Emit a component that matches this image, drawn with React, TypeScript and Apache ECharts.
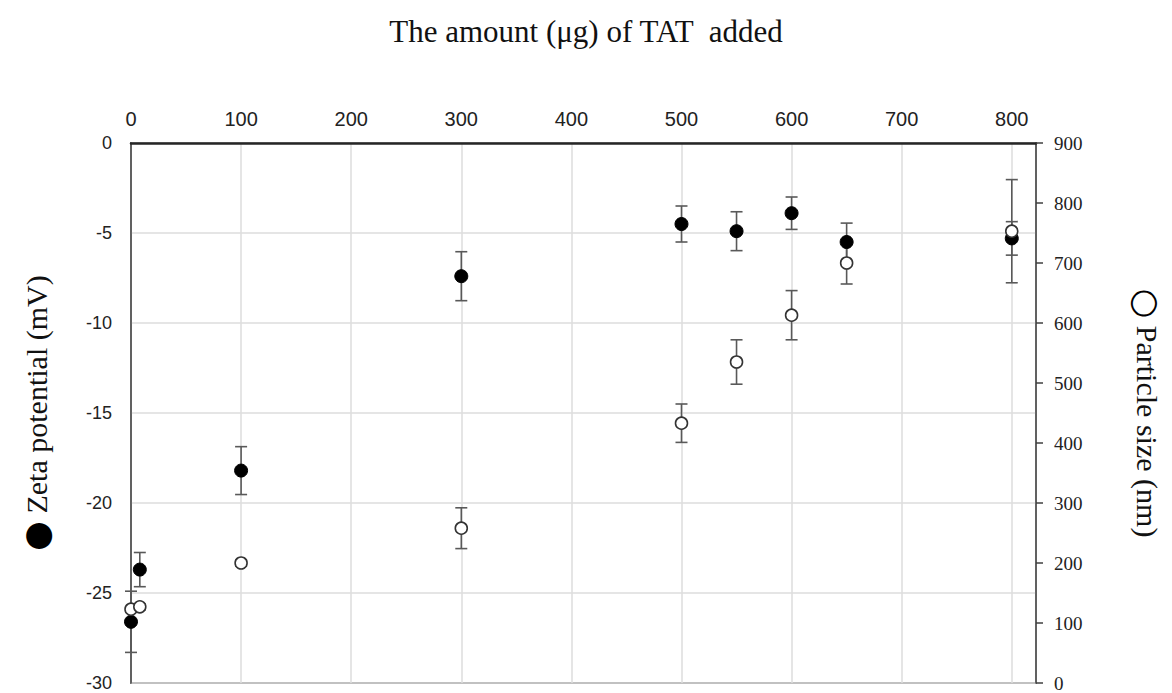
import React, { useEffect, useRef } from "react";
import * as echarts from "echarts";

const amountTAT = [0, 8, 100, 300, 500, 550, 600, 650, 800];
const zetaMean = [-26.6, -23.7, -18.2, -7.4, -4.5, -4.9, -3.9, -5.5, -5.3];
const zetaSD = [1.7, 0.95, 1.33, 1.36, 1.0, 1.08, 0.9, 1.05, 0.93];
const sizeMean = [123, 127, 200, 258, 433, 535, 613, 700, 753];
const sizeSD = [4, 5, 5, 34, 32, 37, 41, 35, 86];
const xTicks = [0, 100, 200, 300, 400, 500, 600, 700, 800];

const errColor = "#595959";

function errorRender(params: any, api: any) {
  const x = api.value(0);
  const lo = api.value(1);
  const hi = api.value(2);
  const p1 = api.coord([x, hi]);
  const p2 = api.coord([x, lo]);
  const w = 6;
  const style = { stroke: errColor, lineWidth: 1.6, fill: null };
  return {
    type: "group",
    children: [
      { type: "line", shape: { x1: p1[0], y1: p1[1], x2: p2[0], y2: p2[1] }, style },
      { type: "line", shape: { x1: p1[0] - w, y1: p1[1], x2: p1[0] + w, y2: p1[1] }, style },
      { type: "line", shape: { x1: p2[0] - w, y1: p2[1], x2: p2[0] + w, y2: p2[1] }, style },
    ],
  };
}

export default function App() {
  const ref = useRef<HTMLDivElement>(null);
  useEffect(() => {
    if (!ref.current) return;
    const chart = echarts.init(ref.current, null, { renderer: "svg" });
    const zetaErr = amountTAT.map((x, i) => [x, zetaMean[i] - zetaSD[i], zetaMean[i] + zetaSD[i]]);
    const sizeErr = amountTAT.map((x, i) => [x, sizeMean[i] - sizeSD[i], sizeMean[i] + sizeSD[i]]);
    const zetaPts = amountTAT.map((x, i) => [x, zetaMean[i]]);
    const sizePts = amountTAT.map((x, i) => [x, sizeMean[i]]);
    const nameFont = "'Liberation Serif', serif";
    chart.setOption({
      animation: false,
      backgroundColor: "#ffffff",
      title: {
        text: "The amount (μg) of TAT  added",
        left: "center",
        top: 11,
        textStyle: {
          fontFamily: nameFont,
          fontWeight: "normal",
          fontSize: 31,
          color: "#111",
        },
      },
      grid: {
        left: 131,
        top: 143,
        right: 136,
        bottom: 10,
        show: true,
        borderColor: "#404040",
        borderWidth: 1.5,
        containLabel: false,
      },
      xAxis: {
        type: "value",
        position: "top",
        min: 0,
        max: 822,
        interval: 100,
        axisLine: { show: true, lineStyle: { color: "#262626", width: 2.5 } },
        axisTick: { show: false },
        axisLabel: {
          margin: 14,
          fontFamily: "'Liberation Sans Narrow', 'Liberation Sans', sans-serif",
          fontSize: 20,
          color: "#222",
          formatter: (v: number) => (xTicks.indexOf(v) >= 0 ? String(v) : ""),
        },
        splitLine: { show: true, lineStyle: { color: "#dcdcdc", width: 1.5 } },
      },
      yAxis: [
        {
          type: "value",
          position: "left",
          min: -30,
          max: 0,
          interval: 5,
          name: "{c|●} Zeta potential (mV)",
          nameLocation: "middle",
          nameGap: 78,
          nameTextStyle: {
            fontFamily: nameFont,
            fontSize: 30,
            color: "#111",
            rich: {
              c: { fontFamily: "'DejaVu Sans', sans-serif", fontSize: 34, color: "#000" },
            },
          },
          axisLine: { show: true, lineStyle: { color: "#404040", width: 1.5 } },
          axisTick: { show: false },
          axisLabel: {
            margin: 19,
            fontFamily: "'Liberation Sans', sans-serif",
            fontSize: 18,
            color: "#222",
          },
          splitLine: { show: true, lineStyle: { color: "#dcdcdc", width: 1.5 } },
        },
        {
          type: "value",
          position: "right",
          min: 0,
          max: 900,
          interval: 100,
          name: "{c|○} Particle size (nm)",
          nameLocation: "middle",
          nameGap: 94,
          nameRotate: -90,
          nameTextStyle: {
            fontFamily: nameFont,
            fontSize: 30,
            color: "#111",
            rich: {
              c: { fontFamily: "'DejaVu Sans', sans-serif", fontSize: 34, color: "#000" },
            },
          },
          axisLine: { show: true, lineStyle: { color: "#404040", width: 1.5 } },
          axisTick: { show: true, inside: false, length: 7, lineStyle: { color: "#404040", width: 1.5 } },
          axisLabel: {
            margin: 18,
            fontFamily: nameFont,
            fontSize: 19,
            color: "#222",
          },
          splitLine: { show: false },
        },
      ],
      series: [
        {
          name: "zetaErr",
          type: "custom",
          xAxisIndex: 0,
          yAxisIndex: 0,
          clip: false,
          renderItem: errorRender,
          encode: { x: 0, y: [1, 2] },
          data: zetaErr,
          z: 2,
        },
        {
          name: "sizeErr",
          type: "custom",
          xAxisIndex: 0,
          yAxisIndex: 1,
          clip: false,
          renderItem: errorRender,
          encode: { x: 0, y: [1, 2] },
          data: sizeErr,
          z: 2,
        },
        {
          name: "Zeta potential",
          type: "scatter",
          xAxisIndex: 0,
          yAxisIndex: 0,
          clip: false,
          symbol: "circle",
          symbolSize: 13,
          itemStyle: { color: "#000", borderColor: "#000", borderWidth: 1, opacity: 1 },
          data: zetaPts,
          z: 3,
        },
        {
          name: "Particle size",
          type: "scatter",
          xAxisIndex: 0,
          yAxisIndex: 1,
          clip: false,
          symbol: "circle",
          symbolSize: 12,
          itemStyle: { color: "#fff", borderColor: "#333", borderWidth: 1.6, opacity: 1 },
          data: sizePts,
          z: 4,
        },
      ],
    });
    return () => chart.dispose();
  }, []);
  return (
    <div
      ref={ref}
      style={{ position: "fixed", left: 0, top: 0, width: 1172, height: 693 }}
    />
  );
}
